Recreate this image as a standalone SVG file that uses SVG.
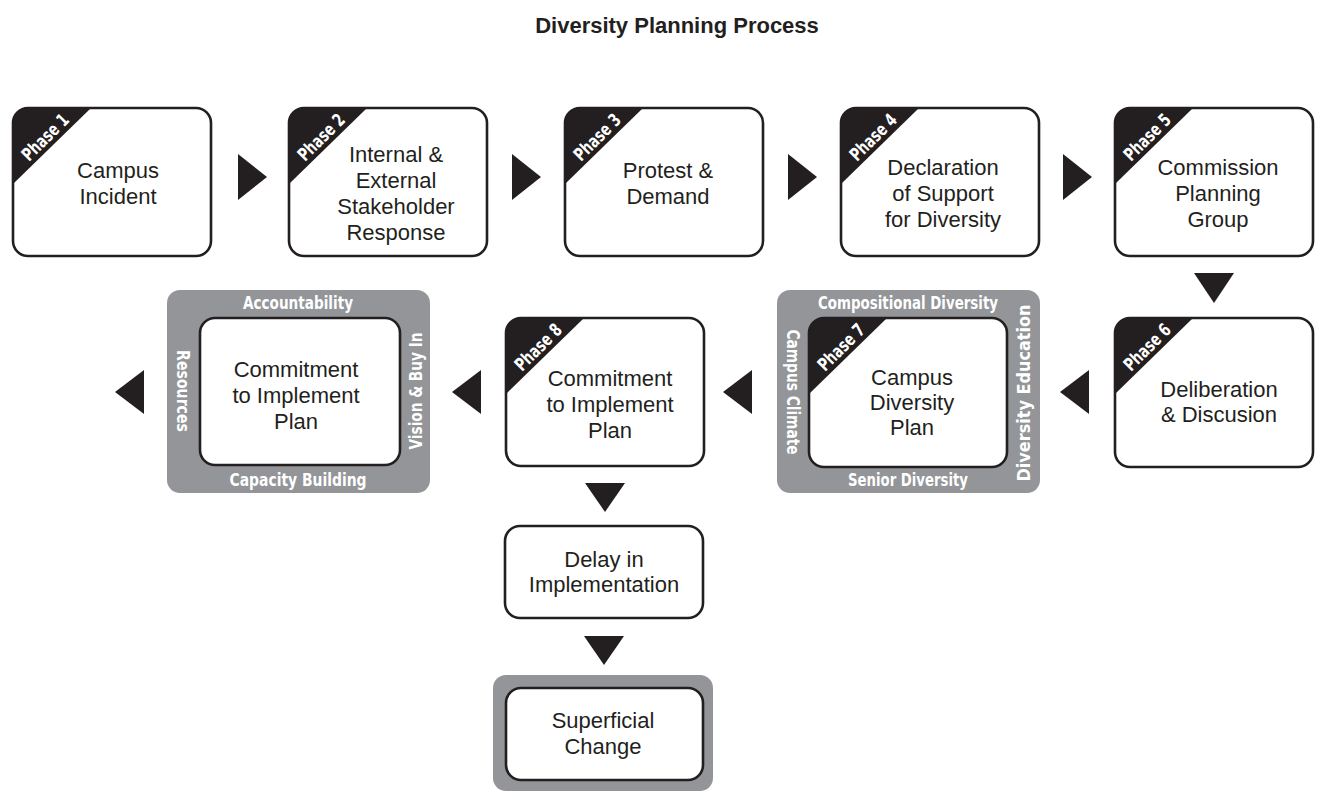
<svg xmlns="http://www.w3.org/2000/svg" width="1317" height="792" viewBox="0 0 1317 792">
<style>
.box{fill:#fff;stroke:#231f20;stroke-width:2.6}
.band{fill:#939598}
.tag{fill:#231f20}
.tagt{font-family:"Liberation Sans Narrow","DejaVu Sans Condensed","Liberation Sans",sans-serif;font-weight:bold;font-size:18px;fill:#fff;text-anchor:middle}
.lbl{font-family:"Liberation Sans Narrow","DejaVu Sans Condensed","Liberation Sans",sans-serif;font-weight:bold;font-size:18px;fill:#fff;text-anchor:middle}
.txt{font-family:"Liberation Sans",Arial,sans-serif;font-size:22px;fill:#231f20;text-anchor:middle}
.title{font-family:"Liberation Sans",Arial,sans-serif;font-weight:bold;font-size:22px;fill:#231f20;text-anchor:middle}
.arr{fill:#231f20}
</style>
<rect width="1317" height="792" fill="#fff"/>
<text class="title" x="677" y="33">Diversity Planning Process</text>

<g id="phase1">
<rect class="box" x="13" y="108" width="198" height="148" rx="15"/>
<path class="tag" d="M13,184 L13,123 A15,15 0 0 1 28,108 L91,108 Z"/>
<text class="tagt" transform="translate(49.6,141.6) rotate(-45)" textLength="58" lengthAdjust="spacingAndGlyphs">Phase 1</text>
<text class="txt" x="118" y="178">Campus</text>
<text class="txt" x="118" y="204">Incident</text>
</g>

<g id="phase2">
<rect class="box" x="289" y="108" width="198" height="148" rx="15"/>
<path class="tag" d="M289,184 L289,123 A15,15 0 0 1 304,108 L367,108 Z"/>
<text class="tagt" transform="translate(325.6,141.6) rotate(-45)" textLength="58" lengthAdjust="spacingAndGlyphs">Phase 2</text>
<text class="txt" x="396" y="162">Internal &amp;</text>
<text class="txt" x="396" y="188">External</text>
<text class="txt" x="396" y="214">Stakeholder</text>
<text class="txt" x="396" y="240">Response</text>
</g>

<g id="phase3">
<rect class="box" x="565" y="108" width="198" height="148" rx="15"/>
<path class="tag" d="M565,184 L565,123 A15,15 0 0 1 580,108 L643,108 Z"/>
<text class="tagt" transform="translate(601.6,141.6) rotate(-45)" textLength="58" lengthAdjust="spacingAndGlyphs">Phase 3</text>
<text class="txt" x="668" y="178">Protest &amp;</text>
<text class="txt" x="668" y="204">Demand</text>
</g>

<g id="phase4">
<rect class="box" x="841" y="108" width="198" height="148" rx="15"/>
<path class="tag" d="M841,184 L841,123 A15,15 0 0 1 856,108 L919,108 Z"/>
<text class="tagt" transform="translate(877.6,141.6) rotate(-45)" textLength="58" lengthAdjust="spacingAndGlyphs">Phase 4</text>
<text class="txt" x="943" y="175">Declaration</text>
<text class="txt" x="943" y="201">of Support</text>
<text class="txt" x="943" y="227">for Diversity</text>
</g>

<g id="phase5">
<rect class="box" x="1115" y="108" width="198" height="148" rx="15"/>
<path class="tag" d="M1115,184 L1115,123 A15,15 0 0 1 1130,108 L1193,108 Z"/>
<text class="tagt" transform="translate(1151.6,141.6) rotate(-45)" textLength="58" lengthAdjust="spacingAndGlyphs">Phase 5</text>
<text class="txt" x="1218" y="175">Commission</text>
<text class="txt" x="1218" y="201">Planning</text>
<text class="txt" x="1218" y="227">Group</text>
</g>

<g id="phase6">
<rect class="box" x="1115" y="318" width="198" height="149" rx="15"/>
<path class="tag" d="M1115,394 L1115,333 A15,15 0 0 1 1130,318 L1193,318 Z"/>
<text class="tagt" transform="translate(1151.6,351.6) rotate(-45)" textLength="58" lengthAdjust="spacingAndGlyphs">Phase 6</text>
<text class="txt" x="1219" y="397">Deliberation</text>
<text class="txt" x="1219" y="422">&amp; Discusion</text>
</g>

<g id="phase7">
<rect class="band" x="777" y="290" width="263" height="203" rx="13"/>
<text class="lbl" x="908" y="309" textLength="180" lengthAdjust="spacingAndGlyphs">Compositional Diversity</text>
<text class="lbl" x="908" y="486" textLength="120" lengthAdjust="spacingAndGlyphs">Senior Diversity</text>
<text class="lbl" transform="translate(786.5,392) rotate(90)" textLength="125" lengthAdjust="spacingAndGlyphs">Campus Climate</text>
<text class="lbl" transform="translate(1030,393) rotate(-90)" textLength="177" lengthAdjust="spacingAndGlyphs">Diversity Education</text>
<rect class="box" x="809" y="318" width="198" height="149" rx="15"/>
<path class="tag" d="M809,394 L809,333 A15,15 0 0 1 824,318 L887,318 Z"/>
<text class="tagt" transform="translate(845.6,351.6) rotate(-45)" textLength="58" lengthAdjust="spacingAndGlyphs">Phase 7</text>
<text class="txt" x="912" y="385">Campus</text>
<text class="txt" x="912" y="410">Diversity</text>
<text class="txt" x="912" y="435">Plan</text>
</g>

<g id="phase8">
<rect class="box" x="506" y="318" width="198" height="148" rx="15"/>
<path class="tag" d="M506,394 L506,333 A15,15 0 0 1 521,318 L584,318 Z"/>
<text class="tagt" transform="translate(542.6,351.6) rotate(-45)" textLength="58" lengthAdjust="spacingAndGlyphs">Phase 8</text>
<text class="txt" x="610" y="386">Commitment</text>
<text class="txt" x="610" y="412">to Implement</text>
<text class="txt" x="610" y="438">Plan</text>
</g>

<g id="commitment">
<rect class="band" x="167" y="290" width="263" height="203" rx="13"/>
<text class="lbl" x="298" y="309" textLength="110" lengthAdjust="spacingAndGlyphs">Accountability</text>
<text class="lbl" x="298" y="486" textLength="137" lengthAdjust="spacingAndGlyphs">Capacity Building</text>
<text class="lbl" transform="translate(177,391) rotate(90)" textLength="82" lengthAdjust="spacingAndGlyphs">Resources</text>
<text class="lbl" transform="translate(421.5,391) rotate(-90)" textLength="117" lengthAdjust="spacingAndGlyphs">Vision &amp; Buy In</text>
<rect class="box" x="200" y="318" width="200" height="147" rx="15"/>
<text class="txt" x="296" y="377">Commitment</text>
<text class="txt" x="296" y="403">to Implement</text>
<text class="txt" x="296" y="429">Plan</text>
</g>

<g id="delay">
<rect class="box" x="505" y="526" width="198" height="92" rx="15"/>
<text class="txt" x="604" y="567">Delay in</text>
<text class="txt" x="604" y="592">Implementation</text>
</g>

<g id="superficial">
<rect class="band" x="493" y="675" width="220" height="116" rx="13"/>
<rect class="box" x="506" y="688" width="197" height="92" rx="15"/>
<text class="txt" x="603" y="728">Superficial</text>
<text class="txt" x="603" y="754">Change</text>
</g>

<g id="connectors">
<polygon class="arr" points="238,154 267,177 238,200"/>
<polygon class="arr" points="512,154 541,177 512,200"/>
<polygon class="arr" points="788,154 817,177 788,200"/>
<polygon class="arr" points="1063,154 1092,177 1063,200"/>
<polygon class="arr" points="1194,273 1234,273 1214,303"/>
<polygon class="arr" points="1089,370 1060,392 1089,414"/>
<polygon class="arr" points="752,370 723,392 752,414"/>
<polygon class="arr" points="481,370 452,392 481,414"/>
<polygon class="arr" points="144,370 115,392 144,414"/>
<polygon class="arr" points="585,483 625,483 605,512"/>
<polygon class="arr" points="584,636 624,636 604,665"/>
</g>
</svg>
